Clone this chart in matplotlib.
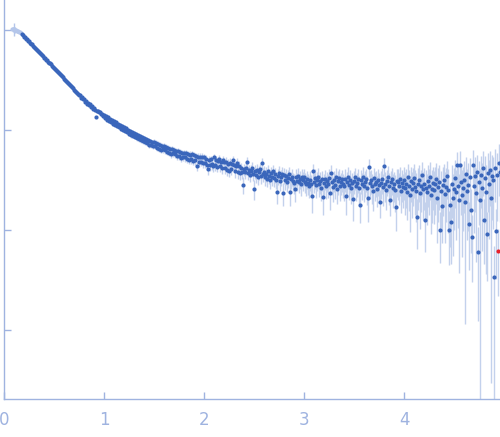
import numpy as np
import matplotlib
matplotlib.use('Agg')
import matplotlib.pyplot as plt

# excluded low-q points (drawn pale)
q_low = [0.08, 0.09, 0.10, 0.11, 0.12, 0.13, 0.14, 0.15, 0.16, 0.17]
log_i_low = [0.012, 0.005, 0.008, 0.000, -0.004, -0.010, -0.012, -0.020, -0.025, -0.032]
err_low = [0.03, 0.05, 0.15, 0.06, 0.03, 0.04, 0.02, 0.02, 0.015, 0.01]

# scattering curve, log10(I)
q = [
    0.18, 0.19,
    0.20, 0.21, 0.22, 0.23, 0.24, 0.25, 0.26, 0.27, 0.28, 0.29,
    0.30, 0.31, 0.32, 0.33, 0.34, 0.35, 0.36, 0.37, 0.38, 0.39,
    0.40, 0.41, 0.42, 0.43, 0.44, 0.45, 0.46, 0.47, 0.48, 0.49,
    0.50, 0.51, 0.52, 0.53, 0.54, 0.55, 0.56, 0.57, 0.58, 0.59,
    0.60, 0.61, 0.62, 0.63, 0.64, 0.65, 0.66, 0.67, 0.68, 0.69,
    0.70, 0.71, 0.72, 0.73, 0.74, 0.75, 0.76, 0.77, 0.78, 0.79,
    0.80, 0.81, 0.82, 0.83, 0.84, 0.85, 0.86, 0.87, 0.88, 0.89,
    0.90, 0.91, 0.92, 0.93, 0.94, 0.95, 0.96, 0.97, 0.98, 0.99,
    1.00, 1.01, 1.02, 1.03, 1.04, 1.05, 1.06, 1.07, 1.08, 1.09,
    1.10, 1.11, 1.12, 1.13, 1.14, 1.15, 1.16, 1.17, 1.18, 1.19,
    1.20, 1.21, 1.22, 1.23, 1.24, 1.25, 1.26, 1.27, 1.28, 1.29,
    1.30, 1.31, 1.32, 1.33, 1.34, 1.35, 1.36, 1.37, 1.38, 1.39,
    1.40, 1.41, 1.42, 1.43, 1.44, 1.45, 1.46, 1.47, 1.48, 1.49,
    1.50, 1.51, 1.52, 1.53, 1.54, 1.55, 1.56, 1.57, 1.58, 1.59,
    1.60, 1.61, 1.62, 1.63, 1.64, 1.65, 1.66, 1.67, 1.68, 1.69,
    1.70, 1.71, 1.72, 1.73, 1.74, 1.75, 1.76, 1.77, 1.78, 1.79,
    1.80, 1.81, 1.82, 1.83, 1.84, 1.85, 1.86, 1.87, 1.88, 1.89,
    1.90, 1.91, 1.92, 1.93, 1.94, 1.95, 1.96, 1.97, 1.98, 1.99,
    2.00, 2.01, 2.02, 2.03, 2.04, 2.05, 2.06, 2.07, 2.08, 2.09,
    2.10, 2.11, 2.12, 2.13, 2.14, 2.15, 2.16, 2.17, 2.18, 2.19,
    2.20, 2.21, 2.22, 2.23, 2.24, 2.25, 2.26, 2.27, 2.28, 2.29,
    2.30, 2.31, 2.32, 2.33, 2.34, 2.35, 2.36, 2.37, 2.38, 2.39,
    2.40, 2.41, 2.42, 2.43, 2.44, 2.45, 2.46, 2.47, 2.48, 2.49,
    2.50, 2.51, 2.52, 2.53, 2.54, 2.55, 2.56, 2.57, 2.58, 2.59,
    2.60, 2.61, 2.62, 2.63, 2.64, 2.65, 2.66, 2.67, 2.68, 2.69,
    2.70, 2.71, 2.72, 2.73, 2.74, 2.75, 2.76, 2.77, 2.78, 2.79,
    2.80, 2.81, 2.82, 2.83, 2.84, 2.85, 2.86, 2.87, 2.88, 2.89,
    2.90, 2.91, 2.92, 2.93, 2.94, 2.95, 2.96, 2.97, 2.98, 2.99,
    3.00, 3.01, 3.02, 3.03, 3.04, 3.05, 3.06, 3.07, 3.08, 3.09,
    3.10, 3.11, 3.12, 3.13, 3.14, 3.15, 3.16, 3.17, 3.18, 3.19,
    3.20, 3.21, 3.22, 3.23, 3.24, 3.25, 3.26, 3.27, 3.28, 3.29,
    3.30, 3.31, 3.32, 3.33, 3.34, 3.35, 3.36, 3.37, 3.38, 3.39,
    3.40, 3.41, 3.42, 3.43, 3.44, 3.45, 3.46, 3.47, 3.48, 3.49,
    3.50, 3.51, 3.52, 3.53, 3.54, 3.55, 3.56, 3.57, 3.58, 3.59,
    3.60, 3.61, 3.62, 3.63, 3.64, 3.65, 3.66, 3.67, 3.68, 3.69,
    3.70, 3.71, 3.72, 3.73, 3.74, 3.75, 3.76, 3.77, 3.78, 3.79,
    3.80, 3.81, 3.82, 3.83, 3.84, 3.85, 3.86, 3.87, 3.88, 3.89,
    3.90, 3.91, 3.92, 3.93, 3.94, 3.95, 3.96, 3.97, 3.98, 3.99,
    4.00, 4.01, 4.02, 4.03, 4.04, 4.05, 4.06, 4.07, 4.08, 4.09,
    4.10, 4.11, 4.12, 4.13, 4.14, 4.15, 4.16, 4.17, 4.18, 4.19,
    4.20, 4.21, 4.22, 4.23, 4.24, 4.25, 4.26, 4.27, 4.28, 4.29,
    4.30, 4.31, 4.32, 4.33, 4.34, 4.35, 4.36, 4.37, 4.38, 4.39,
    4.40, 4.41, 4.42, 4.43, 4.44, 4.45, 4.46, 4.47, 4.48, 4.49,
    4.50, 4.51, 4.52, 4.53, 4.54, 4.55, 4.56, 4.57, 4.58, 4.59,
    4.60, 4.61, 4.62, 4.63, 4.64, 4.65, 4.66, 4.67, 4.68, 4.69,
    4.70, 4.71, 4.72, 4.73, 4.74, 4.75, 4.76, 4.77, 4.78, 4.79,
    4.80, 4.81, 4.82, 4.83, 4.84, 4.85, 4.86, 4.87, 4.88, 4.89,
    4.90, 4.91, 4.92, 4.93, 4.95, 4.96,
]
log_i = [
    -0.042, -0.055,
    -0.066, -0.074, -0.087, -0.095, -0.107, -0.115, -0.126, -0.137, -0.144, -0.158,
    -0.168, -0.176, -0.190, -0.198, -0.210, -0.218, -0.233, -0.240, -0.252, -0.263,
    -0.276, -0.284, -0.297, -0.305, -0.318, -0.327, -0.333, -0.345, -0.356, -0.366,
    -0.378, -0.392, -0.398, -0.412, -0.420, -0.433, -0.442, -0.449, -0.463, -0.474,
    -0.488, -0.502, -0.508, -0.522, -0.527, -0.543, -0.552, -0.558, -0.574, -0.585,
    -0.598, -0.612, -0.618, -0.634, -0.636, -0.655, -0.650, -0.678, -0.672, -0.695,
    -0.692, -0.718, -0.710, -0.738, -0.728, -0.755, -0.745, -0.770, -0.762, -0.788,
    -0.782, -0.802, -0.872, -0.815, -0.810, -0.825, -0.825, -0.845, -0.836, -0.865,
    -0.850, -0.885, -0.862, -0.900, -0.872, -0.915, -0.890, -0.925, -0.900, -0.945,
    -0.915, -0.950, -0.925, -0.965, -0.940, -0.975, -0.950, -0.990, -0.960, -1.000,
    -0.975, -1.010, -0.985, -1.025, -1.000, -1.040, -1.012, -1.055, -1.022, -1.062,
    -1.030, -1.070, -1.042, -1.085, -1.055, -1.095, -1.062, -1.105, -1.075, -1.115,
    -1.082, -1.125, -1.092, -1.135, -1.100, -1.150, -1.112, -1.155, -1.120, -1.160,
    -1.118, -1.165, -1.130, -1.180, -1.140, -1.190, -1.150, -1.200, -1.158, -1.195,
    -1.160, -1.205, -1.168, -1.220, -1.178, -1.230, -1.190, -1.245, -1.195, -1.235,
    -1.198, -1.245, -1.208, -1.260, -1.215, -1.265, -1.225, -1.280, -1.230, -1.270,
    -1.228, -1.275, -1.235, -1.290, -1.242, -1.300, -1.250, -1.295, -1.245, -1.310,
    -1.250, -1.305, -1.262, -1.360, -1.268, -1.325, -1.272, -1.320, -1.270, -1.335,
    -1.275, -1.335, -1.290, -1.350, -1.395, -1.300, -1.355, -1.295, -1.345, -1.365,
    -1.275, -1.355, -1.300, -1.370, -1.315, -1.290, -1.365, -1.320, -1.380, -1.305,
    -1.325, -1.385, -1.318, -1.400, -1.340, -1.410, -1.330, -1.390, -1.345, -1.305,
    -1.350, -1.415, -1.360, -1.330, -1.425, -1.365, -1.435, -1.380, -1.420, -1.550,
    -1.395, -1.425, -1.385, -1.320, -1.430, -1.405, -1.450, -1.410, -1.380, -1.440,
    -1.590, -1.415, -1.450, -1.400, -1.470, -1.425, -1.395, -1.460, -1.330, -1.445,
    -1.420, -1.475, -1.440, -1.490, -1.410, -1.460, -1.500, -1.435, -1.470, -1.415,
    -1.480, -1.445, -1.500, -1.620, -1.460, -1.430, -1.510, -1.475, -1.440, -1.630,
    -1.455, -1.500, -1.465, -1.520, -1.480, -1.440, -1.620, -1.495, -1.470, -1.510,
    -1.530, -1.590, -1.470, -1.510, -1.460, -1.525, -1.490, -1.545, -1.475, -1.505,
    -1.470, -1.520, -1.545, -1.490, -1.530, -1.560, -1.500, -1.540, -1.660, -1.415,
    -1.520, -1.480, -1.555, -1.505, -1.470, -1.545, -1.515, -1.580, -1.495, -1.670,
    -1.530, -1.490, -1.560, -1.510, -1.545, -1.480, -1.630, -1.430, -1.520, -1.575,
    -1.500, -1.550, -1.470, -1.590, -1.515, -1.480, -1.560, -1.525, -1.495, -1.545,
    -1.565, -1.490, -1.660, -1.520, -1.470, -1.555, -1.500, -1.585, -1.535, -1.690,
    -1.510, -1.475, -1.560, -1.530, -1.495, -1.580, -1.750, -1.505, -1.545, -1.470,
    -1.560, -1.520, -1.490, -1.585, -1.680, -1.370, -1.530, -1.500, -1.565, -1.610,
    -1.480, -1.545, -1.520, -1.590, -1.505, -1.555, -1.720, -1.530, -1.490, -1.575,
    -1.360, -1.540, -1.600, -1.510, -1.475, -1.565, -1.700, -1.525, -1.495, -1.580,
    -1.545, -1.600, -1.775, -1.510, -1.520, -1.560, -1.490, -1.610, -1.535, -1.575,
    -1.500, -1.580, -1.545, -1.620, -1.470, -1.560, -1.655, -1.515, -1.590, -1.530,
    -1.480, -1.570, -1.610, -1.870, -1.540, -1.500, -1.630, -1.560, -1.455, -1.595,
    -1.540, -1.900, -1.580, -1.620, -1.510, -1.560, -1.470, -1.650, -1.590, -1.530,
    -1.600, -1.545, -1.490, -1.680, -1.570, -1.520, -2.000, -1.610, -1.760, -1.550,
    -1.500, -1.640, -1.570, -1.460, -1.600, -2.000, -1.750, -1.920, -1.540, -1.680,
    -1.590, -1.480, -1.620, -1.350, -1.560, -1.700, -1.350, -1.520, -1.650, -1.580,
    -1.500, -1.720, -1.440, -1.610, -1.550, -1.940, -1.470, -1.800, -2.070, -1.350,
    -1.560, -1.460, -1.630, -1.420, -2.220, -1.520, -1.700, -1.450, -1.580, -1.380,
    -1.900, -1.480, -1.620, -2.040, -1.430, -1.540, -1.400, -1.680, -1.460, -1.500,
    -2.470, -1.380, -2.010, -1.450, -1.330, -1.420,
]
err = [
    0.0050, 0.0048,
    0.0045, 0.0040, 0.0042, 0.0038, 0.0040, 0.0041, 0.0039, 0.0040, 0.0037, 0.0038,
    0.0038, 0.0037, 0.0039, 0.0036, 0.0037, 0.0035, 0.0038, 0.0036, 0.0035, 0.0036,
    0.0035, 0.0036, 0.0034, 0.0035, 0.0033, 0.0035, 0.0034, 0.0033, 0.0034, 0.0032,
    0.0033, 0.0032, 0.0034, 0.0031, 0.0033, 0.0032, 0.0031, 0.0033, 0.0032, 0.0031,
    0.0032, 0.0031, 0.0033, 0.0030, 0.0032, 0.0031, 0.0030, 0.0032, 0.0031, 0.0030,
    0.0031, 0.0030, 0.0032, 0.0031, 0.0030, 0.0032, 0.0031, 0.0030, 0.0031, 0.0032,
    0.0031, 0.0032, 0.0030, 0.0032, 0.0031, 0.0033, 0.0031, 0.0032, 0.0030, 0.0032,
    0.0032, 0.0033, 0.0035, 0.0032, 0.0034, 0.0033, 0.0032, 0.0034, 0.0033, 0.0035,
    0.0034, 0.0036, 0.0035, 0.0037, 0.0034, 0.0036, 0.0035, 0.0037, 0.0036, 0.0038,
    0.0037, 0.0038, 0.0036, 0.0039, 0.0037, 0.0038, 0.0040, 0.0037, 0.0039, 0.0038,
    0.0039, 0.0038, 0.0040, 0.0039, 0.0041, 0.0039, 0.0040, 0.0042, 0.0040, 0.0041,
    0.0040, 0.0042, 0.0041, 0.0043, 0.0040, 0.0042, 0.0041, 0.0043, 0.0042, 0.0044,
    0.0042, 0.0043, 0.0041, 0.0044, 0.0042, 0.0043, 0.0045, 0.0042, 0.0044, 0.0043,
    0.0043, 0.0045, 0.0044, 0.0042, 0.0045, 0.0044, 0.0046, 0.0043, 0.0045, 0.0044,
    0.0044, 0.0046, 0.0045, 0.0043, 0.0046, 0.0045, 0.0047, 0.0044, 0.0046, 0.0045,
    0.0045, 0.0047, 0.0046, 0.0044, 0.0047, 0.0046, 0.0048, 0.0045, 0.0047, 0.0046,
    0.0046, 0.0048, 0.0047, 0.0045, 0.0048, 0.0047, 0.0049, 0.0046, 0.0048, 0.0047,
    0.0047, 0.0049, 0.0048, 0.0046, 0.0049, 0.0048, 0.0050, 0.0047, 0.0049, 0.0048,
    0.0048, 0.0050, 0.0049, 0.0047, 0.0051, 0.0049, 0.0050, 0.0048, 0.0051, 0.0050,
    0.0049, 0.0051, 0.0050, 0.0048, 0.0052, 0.0050, 0.0051, 0.0049, 0.0052, 0.0051,
    0.0050, 0.0052, 0.0051, 0.0053, 0.0050, 0.0052, 0.0054, 0.0051, 0.0053, 0.0052,
    0.0052, 0.0054, 0.0053, 0.0051, 0.0055, 0.0053, 0.0054, 0.0052, 0.0055, 0.0054,
    0.0054, 0.0056, 0.0055, 0.0053, 0.0057, 0.0055, 0.0056, 0.0054, 0.0057, 0.0056,
    0.0056, 0.0058, 0.0057, 0.0055, 0.0059, 0.0057, 0.0058, 0.0056, 0.0060, 0.0058,
    0.0058, 0.0060, 0.0059, 0.0057, 0.0061, 0.0059, 0.0061, 0.0058, 0.0062, 0.0060,
    0.0060, 0.0062, 0.0061, 0.0059, 0.0063, 0.0061, 0.0064, 0.0060, 0.0063, 0.0062,
    0.0062, 0.0065, 0.0063, 0.0061, 0.0066, 0.0064, 0.0066, 0.0062, 0.0065, 0.0064,
    0.0064, 0.0067, 0.0065, 0.0063, 0.0068, 0.0066, 0.0069, 0.0065, 0.0068, 0.0067,
    0.0066, 0.0069, 0.0068, 0.0065, 0.0071, 0.0068, 0.0071, 0.0067, 0.0070, 0.0069,
    0.0069, 0.0072, 0.0070, 0.0068, 0.0074, 0.0071, 0.0074, 0.0070, 0.0073, 0.0072,
    0.0072, 0.0075, 0.0073, 0.0071, 0.0077, 0.0074, 0.0077, 0.0073, 0.0076, 0.0075,
    0.0075, 0.0078, 0.0076, 0.0074, 0.0080, 0.0077, 0.0080, 0.0076, 0.0079, 0.0078,
    0.0078, 0.0081, 0.0079, 0.0077, 0.0083, 0.0080, 0.0083, 0.0079, 0.0082, 0.0081,
    0.0081, 0.0084, 0.0082, 0.0080, 0.0086, 0.0083, 0.0060, 0.0082, 0.0086, 0.0085,
    0.0084, 0.0088, 0.0086, 0.0083, 0.0090, 0.0087, 0.0091, 0.0086, 0.0090, 0.0089,
    0.0088, 0.0092, 0.0090, 0.0087, 0.0094, 0.0091, 0.0060, 0.0090, 0.0094, 0.0093,
    0.0092, 0.0096, 0.0094, 0.0091, 0.0098, 0.0095, 0.0062, 0.0094, 0.0098, 0.0097,
    0.0096, 0.0100, 0.0070, 0.0095, 0.0102, 0.0099, 0.0104, 0.0098, 0.0103, 0.0101,
    0.0115, 0.0121, 0.0118, 0.0114, 0.0123, 0.0119, 0.0125, 0.0117, 0.0124, 0.0121,
    0.0122, 0.0128, 0.0124, 0.0070, 0.0131, 0.0126, 0.0133, 0.0125, 0.0131, 0.0128,
    0.0129, 0.0065, 0.0132, 0.0127, 0.0139, 0.0133, 0.0141, 0.0132, 0.0139, 0.0135,
    0.0137, 0.0145, 0.0140, 0.0135, 0.0148, 0.0142, 0.0053, 0.0140, 0.0100, 0.0144,
    0.0146, 0.0155, 0.0150, 0.0144, 0.0158, 0.0055, 0.0110, 0.0075, 0.0158, 0.0154,
    0.0156, 0.0166, 0.0160, 0.0154, 0.0170, 0.0162, 0.0173, 0.0161, 0.0170, 0.0165,
    0.0168, 0.0179, 0.0172, 0.0166, 0.0184, 0.0075, 0.0188, 0.0100, 0.0055, 0.0180,
    0.0182, 0.0195, 0.0187, 0.0180, 0.0048, 0.0190, 0.0205, 0.0189, 0.0202, 0.0196,
    0.0080, 0.0213, 0.0204, 0.0060, 0.0220, 0.0208, 0.0225, 0.0206, 0.0222, 0.0215,
    0.0036, 0.0228, 0.0065, 0.0232, 0.0250, 0.0260,
]

# flagged point
q_flag = [4.94]
log_i_flag = [-2.21]
err_flag = [0.004]

point_blue = '#3a66bb'
bar_blue = '#c3d1ec'
pale_blue = '#b4c6ea'
axis_blue = '#9fb3e0'


def bars(ax, x, li, e, color):
    x = np.asarray(x)
    i = 10 ** np.asarray(li)
    e = np.asarray(e)
    lo = np.clip(i - e, 1e-6, None)
    hi = i + e
    ax.vlines(x, lo, hi, color=color, lw=1.0, zorder=1)
    return x, i


fig = plt.figure(figsize=(5.0, 4.37), dpi=100)
ax = fig.add_axes([0.008, 0.087, 0.992, 0.913])

x, i = bars(ax, q, log_i, err, bar_blue)
xl, il = bars(ax, q_low, log_i_low, err_low, pale_blue)
xf, iflag = bars(ax, q_flag, log_i_flag, err_flag, bar_blue)

ax.plot(xl, il, 'o', ms=3.0, mew=0, color=pale_blue, zorder=2)
ax.plot(x, i, 'o', ms=3.0, mew=0, color=point_blue, zorder=3)
ax.plot(xf, iflag, 'o', ms=3.0, mew=0, color='#e8212b', zorder=4)

ax.set_yscale('log')
ax.set_xlim(0, 4.96)
ax.set_ylim(10 ** -3.69, 10 ** 0.30)

ax.set_xticks([0, 1, 2, 3, 4])
ax.set_yticks([1, 0.1, 0.01, 0.001])
ax.yaxis.set_minor_locator(matplotlib.ticker.NullLocator())
ax.set_yticklabels([])
ax.tick_params(axis='both', direction='in', colors=axis_blue, length=5, width=1,
               labelsize=12, pad=9)
ax.tick_params(axis='x', labelcolor=axis_blue)

for side in ['top', 'right']:
    ax.spines[side].set_visible(False)
for side in ['left', 'bottom']:
    ax.spines[side].set_color(axis_blue)
    ax.spines[side].set_linewidth(1)

fig.savefig('out.png', dpi=100)
